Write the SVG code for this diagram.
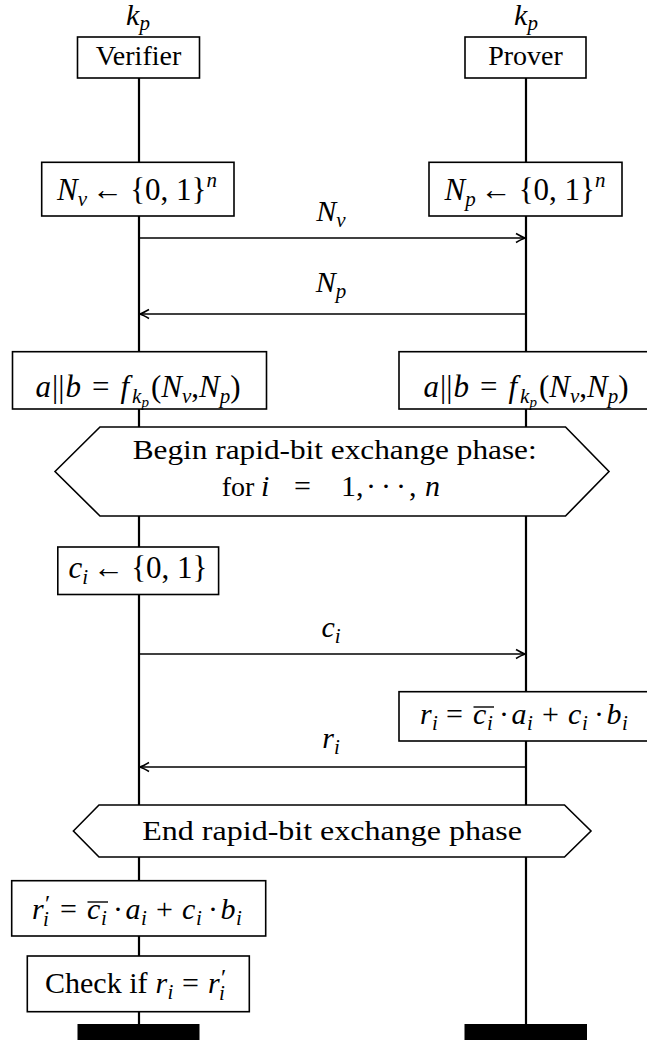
<svg xmlns="http://www.w3.org/2000/svg" width="647" height="1040" viewBox="0 0 647 1040">
<defs>
<style>
text{font-family:"Liberation Serif","Times New Roman",serif;font-size:28px;fill:#000}
.f{font-size:30px}
.g{font-size:31px}
.m{font-style:italic}
.s{font-size:21px}
.ss{font-size:15px}
.pr{font-size:24px}
.box{fill:#fff;stroke:#000;stroke-width:1.6}
.life{stroke:#000;stroke-width:2.2;fill:none}
.msg{stroke:#000;stroke-width:1.6;fill:none;marker-end:url(#ah)}
.ol{stroke:#000;stroke-width:1.4}
</style>
<marker id="ah" viewBox="-10 -6 12 12" refX="0" refY="0" markerWidth="12" markerHeight="12" markerUnits="userSpaceOnUse" orient="auto">
<path d="M-9,-4.5 Q-3,-1 0,0 Q-3,1 -9,4.5" fill="none" stroke="#000" stroke-width="1.6"/>
</marker>
</defs>
<rect width="647" height="1040" fill="#fff"/>

<g id="lifelines">
<line class="life" x1="139" y1="78" x2="139" y2="1026"/>
<line class="life" x1="526" y1="78" x2="526" y2="1026"/>
</g>

<g id="verifier">
<text class="f" x="138" y="25" text-anchor="middle"><tspan class="m">k</tspan><tspan class="m s" dy="5">p</tspan></text>
<rect class="box" x="77.5" y="37" width="122" height="41"/>
<text x="138.5" y="65" text-anchor="middle">Verifier</text>
</g>

<g id="prover">
<text class="f" x="526" y="25" text-anchor="middle"><tspan class="m">k</tspan><tspan class="m s" dy="5">p</tspan></text>
<rect class="box" x="465" y="37" width="121" height="41"/>
<text x="525.5" y="65" text-anchor="middle">Prover</text>
</g>

<g id="nv-gen">
<rect class="box" x="41.7" y="162.3" width="192.3" height="53.7"/>
<text class="g" x="137" y="200" text-anchor="middle"><tspan class="m">N</tspan><tspan class="m s" dy="6">v</tspan><tspan dy="-6" dx="5">←</tspan><tspan dx="7">{0, 1}</tspan><tspan class="m s" dy="-13">n</tspan></text>
</g>

<g id="np-gen">
<rect class="box" x="429" y="162.3" width="193" height="53.7"/>
<text class="g" x="525" y="200" text-anchor="middle"><tspan class="m">N</tspan><tspan class="m s" dy="6">p</tspan><tspan dy="-6" dx="5">←</tspan><tspan dx="7">{0, 1}</tspan><tspan class="m s" dy="-13">n</tspan></text>
</g>

<g id="ab-verifier">
<rect class="box" x="12.5" y="351.7" width="254" height="57.3"/>
<text class="g" x="138" y="397" text-anchor="middle"><tspan class="m">a</tspan><tspan dx="1">||</tspan><tspan class="m" dx="1">b</tspan><tspan dx="11">=</tspan><tspan class="m" dx="11">f</tspan><tspan class="m s" dx="3" dy="6">k</tspan><tspan class="m ss" dy="4">p</tspan><tspan dx="2" dy="-10">(</tspan><tspan class="m">N</tspan><tspan class="m s" dy="6">v</tspan><tspan dy="-6">,</tspan><tspan class="m">N</tspan><tspan class="m s" dy="6">p</tspan><tspan dy="-6">)</tspan></text>
</g>

<g id="ab-prover">
<rect class="box" x="399" y="351.7" width="254" height="57.3"/>
<text class="g" x="526" y="397" text-anchor="middle"><tspan class="m">a</tspan><tspan dx="1">||</tspan><tspan class="m" dx="1">b</tspan><tspan dx="11">=</tspan><tspan class="m" dx="11">f</tspan><tspan class="m s" dx="3" dy="6">k</tspan><tspan class="m ss" dy="4">p</tspan><tspan dx="2" dy="-10">(</tspan><tspan class="m">N</tspan><tspan class="m s" dy="6">v</tspan><tspan dy="-6">,</tspan><tspan class="m">N</tspan><tspan class="m s" dy="6">p</tspan><tspan dy="-6">)</tspan></text>
</g>

<g id="begin-phase">
<polygon class="box" points="55,471.5 100,427 565.5,427 609,471.5 565.5,516 100,516"/>
<text x="132.7" y="459" textLength="404" lengthAdjust="spacingAndGlyphs">Begin rapid-bit exchange phase:</text>
<text y="496"><tspan x="221.7">for</tspan><tspan class="m f" x="261">i</tspan><tspan class="f" x="294">=</tspan><tspan class="f" x="341">1,</tspan><tspan class="f" x="366">·</tspan><tspan class="f" x="381">·</tspan><tspan class="f" x="396">·</tspan><tspan class="f" x="409">,</tspan><tspan class="m f" x="425">n</tspan></text>
</g>

<g id="ci-gen">
<rect class="box" x="57.8" y="547" width="160.8" height="47.5"/>
<text class="g" x="138" y="578" text-anchor="middle"><tspan class="m">c</tspan><tspan class="m s" dy="6">i</tspan><tspan dy="-6" dx="5">←</tspan><tspan dx="7">{0, 1}</tspan></text>
</g>

<g id="ri-prover">
<rect class="box" x="399" y="691.7" width="254" height="49.3"/>
<text class="f" y="724"><tspan class="m" x="420">r</tspan><tspan class="m s" x="432" y="730">i</tspan><tspan x="446" y="724">=</tspan><tspan class="m" x="473">c</tspan><tspan class="m s" x="487" y="730">i</tspan><tspan x="499" y="724">·</tspan><tspan class="m" x="511.5">a</tspan><tspan class="m s" x="527" y="730">i</tspan><tspan x="542" y="724">+</tspan><tspan class="m" x="568">c</tspan><tspan class="m s" x="582" y="730">i</tspan><tspan x="594" y="724">·</tspan><tspan class="m" x="606.5">b</tspan><tspan class="m s" x="622" y="730">i</tspan></text>
<line class="ol" x1="473.5" y1="707" x2="494" y2="707"/>
</g>

<g id="end-phase">
<polygon class="box" points="73.4,831 99,805 564.5,805 591,831 564.5,857 99,857"/>
<text x="142.3" y="840" textLength="379.6" lengthAdjust="spacingAndGlyphs">End rapid-bit exchange phase</text>
</g>

<g id="ri-verifier">
<rect class="box" x="11.7" y="880.7" width="254" height="55.3"/>
<text class="f" y="919"><tspan class="m" x="32">r</tspan><tspan class="pr" x="45" y="911">′</tspan><tspan class="m s" x="43" y="926">i</tspan><tspan x="60" y="919">=</tspan><tspan class="m" x="87">c</tspan><tspan class="m s" x="101" y="925">i</tspan><tspan x="113" y="919">·</tspan><tspan class="m" x="125.5">a</tspan><tspan class="m s" x="141" y="925">i</tspan><tspan x="156" y="919">+</tspan><tspan class="m" x="182">c</tspan><tspan class="m s" x="196" y="925">i</tspan><tspan x="208" y="919">·</tspan><tspan class="m" x="220.5">b</tspan><tspan class="m s" x="236" y="925">i</tspan></text>
<line class="ol" x1="87.5" y1="902" x2="108" y2="902"/>
</g>

<g id="check">
<rect class="box" x="27.3" y="956" width="222" height="55.7"/>
<text class="f" y="993"><tspan x="45">Check if</tspan><tspan class="m" x="155.5">r</tspan><tspan class="m s" x="167.5" y="999">i</tspan><tspan x="182" y="993">=</tspan><tspan class="m" x="208">r</tspan><tspan class="pr" x="221" y="985">′</tspan><tspan class="m s" x="219" y="1000">i</tspan></text>
</g>

<g id="ends">
<rect x="77.5" y="1024" width="122" height="16" fill="#000"/>
<rect x="464.5" y="1024" width="122.5" height="16" fill="#000"/>
</g>

<g id="connectors">
<line class="msg" x1="139" y1="238" x2="525" y2="238"/>
<text class="f" x="331" y="221" text-anchor="middle"><tspan class="m">N</tspan><tspan class="m s" dy="6">v</tspan></text>
<line class="msg" x1="526" y1="314" x2="140" y2="314"/>
<text class="f" x="331" y="292" text-anchor="middle"><tspan class="m">N</tspan><tspan class="m s" dy="6">p</tspan></text>
<line class="msg" x1="139" y1="654" x2="525" y2="654"/>
<text class="f" x="331" y="637" text-anchor="middle"><tspan class="m">c</tspan><tspan class="m s" dy="6">i</tspan></text>
<line class="msg" x1="526" y1="767" x2="140" y2="767"/>
<text class="f" x="331" y="748" text-anchor="middle"><tspan class="m">r</tspan><tspan class="m s" dy="6">i</tspan></text>
</g>
</svg>
